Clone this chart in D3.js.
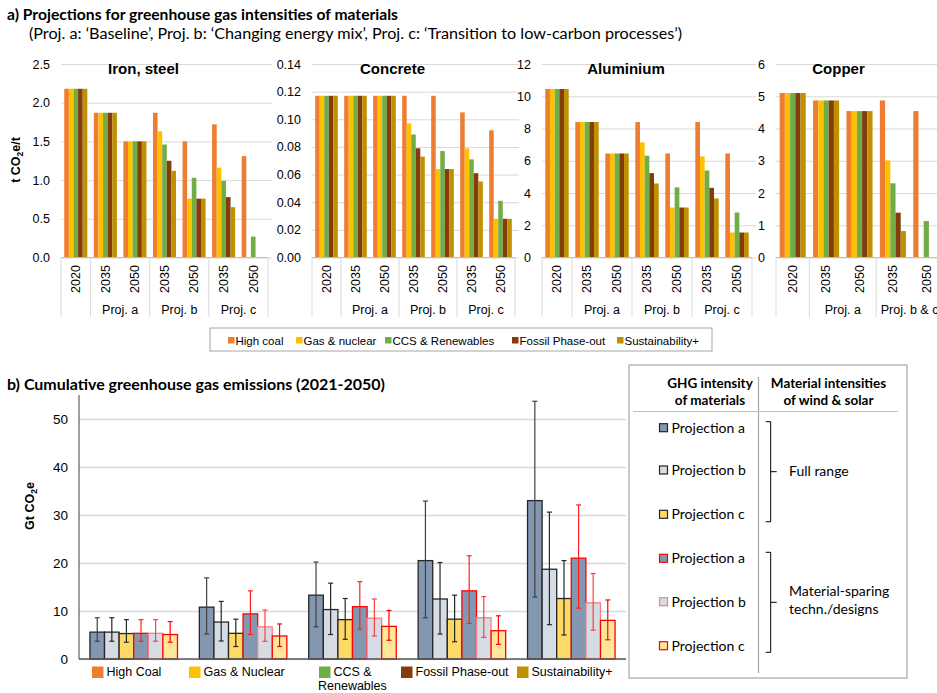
<!DOCTYPE html>
<html>
<head>
<meta charset="utf-8">
<script src="https://cdn.jsdelivr.net/npm/d3@7"></script>
<style>
  body { margin: 0; background: #fff; }
  svg text { font-family: "Liberation Sans", Arial, sans-serif; fill: #000; }
  svg text.cal { font-family: Lato, "Open Sans", sans-serif; }
</style>
</head>
<body>
<div id="chart"></div>
<script>
// a) GHG intensities of materials + b) cumulative emissions
// ==========================================================

var scenarios = ["High coal", "Gas & nuclear", "CCS & Renewables", "Fossil Phase-out", "Sustainability+"];
var colours = ["#ED7D31", "#FFC000", "#70AD47", "#843C0C", "#BF9000"];

var years = ["2020", "2035", "2050", "2035", "2050", "2035", "2050"];
var yearGroups = ["", "Proj. a", "Proj. a", "Proj. b", "Proj. b", "Proj. c", "Proj. c"];
var copperYears = ["2020", "2035", "2050", "2035", "2050"];
var copperGroups = ["", "Proj. a", "Proj. a", "Proj. b & c", "Proj. b & c"];

// t CO2e / t   (rows = year, cols = scenario)
var ironSteel = [
  [2.18, 2.18, 2.18, 2.18, 2.18],
  [1.87, 1.87, 1.87, 1.87, 1.87],
  [1.50, 1.50, 1.50, 1.50, 1.50],
  [1.87, 1.63, 1.46, 1.25, 1.12],
  [1.50, 0.76, 1.03, 0.76, 0.76],
  [1.72, 1.16, 0.99, 0.78, 0.65],
  [1.31, 0, 0.27, 0, 0]
];
var concrete = [
  [0.117, 0.117, 0.117, 0.117, 0.117],
  [0.117, 0.117, 0.117, 0.117, 0.117],
  [0.117, 0.117, 0.117, 0.117, 0.117],
  [0.117, 0.097, 0.089, 0.079, 0.073],
  [0.117, 0.064, 0.077, 0.064, 0.064],
  [0.105, 0.079, 0.071, 0.061, 0.055],
  [0.092, 0.028, 0.041, 0.028, 0.028]
];
var aluminium = [
  [10.45, 10.45, 10.45, 10.45, 10.45],
  [8.4, 8.4, 8.4, 8.4, 8.4],
  [6.45, 6.45, 6.45, 6.45, 6.45],
  [8.4, 7.14, 6.31, 5.23, 4.59],
  [6.45, 3.1, 4.35, 3.1, 3.1],
  [8.4, 6.27, 5.4, 4.32, 3.66],
  [6.45, 1.55, 2.79, 1.55, 1.55]
];
var copper = [
  [5.1, 5.1, 5.1, 5.1, 5.1],
  [4.87, 4.87, 4.87, 4.87, 4.87],
  [4.54, 4.54, 4.54, 4.54, 4.54],
  [4.87, 3.01, 2.3, 1.39, 0.82],
  [4.54, 0, 1.13, 0, 0]
];

// b) Gt CO2e, rows = scenario, cols = projection a/b/c (full range) then a/b/c (material-sparing)
var emScenarios = ["High Coal", "Gas & Nuclear", "CCS & Renewables", "Fossil Phase-out", "Sustainability+"];
var projections = ["Projection a", "Projection b", "Projection c", "Projection a", "Projection b", "Projection c"];
var emissions = [
  [5.6, 5.6, 5.3, 5.35, 5.35, 5.1],
  [10.8, 7.7, 5.35, 9.4, 6.7, 4.8],
  [13.3, 10.3, 8.2, 10.9, 8.5, 6.8],
  [20.5, 12.5, 8.3, 14.2, 8.6, 5.9],
  [33.0, 18.7, 12.6, 21.0, 11.7, 8.05]
];
var emHigh = [
  [8.6, 8.6, 8.2, 8.2, 8.2, 7.8],
  [16.9, 12.0, 8.3, 14.2, 10.2, 7.3],
  [20.2, 15.8, 12.6, 16.1, 12.5, 10.1],
  [32.9, 20.1, 13.3, 21.5, 13.0, 9.0],
  [53.7, 30.6, 20.5, 32.1, 17.8, 12.3]
];
var emLow = [
  [3.7, 3.7, 3.5, 3.7, 3.7, 3.5],
  [5.2, 3.75, 2.6, 5.1, 3.7, 2.6],
  [6.7, 5.1, 4.1, 6.2, 4.8, 3.9],
  [8.6, 5.2, 3.6, 7.4, 4.5, 3.05],
  [12.9, 7.15, 5.0, 10.6, 6.0, 4.0]
];

// styles for the 6 projection bars
var projFill = ["#8497B0", "#D6DCE4", "#FFD966", "#8497B0", "#D6DCE4", "#FFE699"];
var projStroke = ["#262626", "#262626", "#262626", "#FF0000", "#FF7C80", "#FF0000"];
var errStroke = ["#404040", "#262626", "#262626", "#FF2020", "#FF4040", "#FF0000"];

var width = 937, height = 693;

var svg = d3.select("#chart").append("svg")
    .attr("width", width)
    .attr("height", height);

// titles
svg.append("text").attr("class", "cal")
    .attr("x", 7).attr("y", 20)
    .attr("font-size", 15.5).attr("font-weight", "bold")
    .attr("textLength", 391).attr("lengthAdjust", "spacingAndGlyphs")
    .text("a) Projections for greenhouse gas intensities of materials");
svg.append("text").attr("class", "cal")
    .attr("x", 29).attr("y", 38.5)
    .attr("font-size", 14.5)
    .attr("textLength", 653).attr("lengthAdjust", "spacingAndGlyphs")
    .text("(Proj. a: \u2018Baseline\u2019, Proj. b: \u2018Changing energy mix\u2019, Proj. c: \u2018Transition to low-carbon processes\u2019)");

// ---- part a: four small bar charts ----
var plotTop = 64, plotBase = 257.5;

var panels = [
  {name: "Iron, steel", data: ironSteel, cats: years, groups: yearGroups, x0: 61, x1: 268, max: 2.5, n: 5, fmt: ".1f"},
  {name: "Concrete", data: concrete, cats: years, groups: yearGroups, x0: 312, x1: 515, max: 0.14, n: 7, fmt: ".2f"},
  {name: "Aluminium", data: aluminium, cats: years, groups: yearGroups, x0: 542, x1: 752, max: 12, n: 6, fmt: "d"},
  {name: "Copper", data: copper, cats: copperYears, groups: copperGroups, x0: 776, x1: 943, max: 6, n: 6, fmt: "d"}
];

panels.forEach(function(p) {
  var g = svg.append("g");
  var y = d3.scaleLinear().domain([0, p.max]).range([plotBase, plotTop]);
  var x = d3.scaleBand().domain(d3.range(p.cats.length)).range([p.x0, p.x1]);
  var bw = x.bandwidth();
  var xs = d3.scaleBand().domain(d3.range(scenarios.length)).range([bw * 0.11, bw * 0.89]);

  // gridlines + tick labels
  var ax = g.append("g")
      .attr("transform", "translate(" + p.x0 + ",0)")
      .call(d3.axisLeft(y).ticks(p.n).tickFormat(d3.format(p.fmt))
            .tickSize(-(p.x1 - p.x0 + 4)).tickPadding(11));
  ax.select(".domain").remove();
  ax.selectAll("line").attr("stroke", "#d9d9d9");
  ax.selectAll("text").attr("font-size", 12.5).attr("fill", "#000");

  // bars
  g.selectAll("g.cat")
    .data(p.data)
    .enter().append("g")
      .attr("transform", function(d, i) { return "translate(" + x(i) + ",0)"; })
    .selectAll("rect")
    .data(function(d) { return d; })
    .enter().append("rect")
      .attr("x", function(d, j) { return xs(j); })
      .attr("width", xs.bandwidth())
      .attr("y", function(d) { return y(d); })
      .attr("height", function(d) { return plotBase - y(d); })
      .attr("fill", function(d, j) { return colours[j]; });

  // category axis
  g.append("line")
      .attr("x1", p.x0).attr("x2", p.x1)
      .attr("y1", plotBase).attr("y2", plotBase)
      .attr("stroke", "#bfbfbf");

  g.selectAll("text.year")
    .data(p.cats)
    .enter().append("text")
      .attr("class", "year")
      .attr("transform", function(d, i) {
        return "translate(" + (x(i) + bw / 2) + ",279) rotate(-90)";
      })
      .attr("text-anchor", "middle")
      .attr("dy", "0.35em")
      .attr("font-size", 12.5)
      .text(function(d) { return d; });

  // group dividers + labels
  var bounds = [0];
  for (var i = 1; i < p.groups.length; i++) {
    if (p.groups[i] !== p.groups[i - 1]) bounds.push(i);
  }
  bounds.push(p.groups.length);
  g.selectAll("line.div")
    .data(bounds)
    .enter().append("line")
      .attr("class", "div")
      .attr("x1", function(d) { return p.x0 + d * bw; })
      .attr("x2", function(d) { return p.x0 + d * bw; })
      .attr("y1", plotBase).attr("y2", 317)
      .attr("stroke", "#d9d9d9");
  for (var k = 0; k < bounds.length - 1; k++) {
    var lab = p.groups[bounds[k]];
    if (!lab) continue;
    g.append("text")
      .attr("x", p.x0 + (bounds[k] + bounds[k + 1]) / 2 * bw)
      .attr("y", 310).attr("dy", "0.35em")
      .attr("text-anchor", "middle")
      .attr("font-size", 12.5)
      .text(lab);
  }

  g.append("text")
      .attr("x", (p.x0 - 42 + p.x1) / 2).attr("y", 74)
      .attr("text-anchor", "middle")
      .attr("font-size", 15).attr("font-weight", "bold")
      .text(p.name);
});

// y title for part a
var ya = svg.append("text")
    .attr("transform", "translate(20,160) rotate(-90)")
    .attr("text-anchor", "middle")
    .attr("font-size", 12.5).attr("font-weight", "bold");
ya.append("tspan").text("t CO");
ya.append("tspan").attr("font-size", 8.5).attr("dy", 3).text("2");
ya.append("tspan").attr("dy", -3).text("e/t");

// legend part a
svg.append("rect")
    .attr("x", 210).attr("y", 328).attr("width", 502).attr("height", 23)
    .attr("fill", "none").attr("stroke", "#a6a6a6");
var legX = [228, 296, 385, 512, 617];
var leg = svg.selectAll("g.lega")
    .data(scenarios)
    .enter().append("g")
    .attr("transform", function(d, i) { return "translate(" + legX[i] + ",340.5)"; });
leg.append("rect")
    .attr("x", 0).attr("y", -3.5).attr("width", 6.5).attr("height", 6.5)
    .attr("fill", function(d, i) { return colours[i]; });
leg.append("text")
    .attr("x", 7.5).attr("dy", "0.35em")
    .attr("font-size", 11.5)
    .text(function(d) { return d; });

// ---- part b: cumulative emissions ----
svg.append("text").attr("class", "cal")
    .attr("x", 7).attr("y", 390)
    .attr("font-size", 15.5).attr("font-weight", "bold")
    .attr("textLength", 378).attr("lengthAdjust", "spacingAndGlyphs")
    .text("b) Cumulative greenhouse gas emissions (2021-2050)");

var yB = d3.scaleLinear().domain([0, 55]).range([659, 395]);
var xB = d3.scaleBand().domain(emScenarios).range([79, 626]).paddingInner(0.2).paddingOuter(0.1);
var xV = d3.scaleBand().domain(d3.range(projections.length)).range([0, xB.bandwidth()]);

var axB = svg.append("g")
    .attr("transform", "translate(79,0)")
    .call(d3.axisLeft(yB).tickValues([0, 10, 20, 30, 40, 50])
          .tickSize(-(626 - 79)).tickPadding(11));
axB.select(".domain").remove();
axB.selectAll("line").attr("stroke", "#d9d9d9").attr("stroke-width", 1.3);
axB.selectAll("text").attr("font-size", 13.5).attr("fill", "#000");

var grp = svg.selectAll("g.em")
    .data(emissions)
    .enter().append("g")
    .attr("transform", function(d, i) { return "translate(" + xB(emScenarios[i]) + ",0)"; });

grp.selectAll("rect")
    .data(function(d) { return d; })
    .enter().append("rect")
    .attr("x", function(d, j) { return xV(j); })
    .attr("width", xV.bandwidth())
    .attr("y", function(d) { return yB(d); })
    .attr("height", function(d) { return yB(0) - yB(d); })
    .attr("fill", function(d, j) { return projFill[j]; })
    .attr("stroke", function(d, j) { return projStroke[j]; })
    .attr("stroke-width", 1.3);

// error bars
grp.each(function(row, i) {
  var gg = d3.select(this);
  row.forEach(function(v, j) {
    var cx = xV(j) + xV.bandwidth() / 2;
    var hi = yB(emHigh[i][j]), lo = yB(emLow[i][j]);
    var c = errStroke[j];
    gg.append("line").attr("x1", cx).attr("x2", cx).attr("y1", hi).attr("y2", lo)
      .attr("stroke", c).attr("stroke-width", 1.2);
    gg.append("line").attr("x1", cx - 2.5).attr("x2", cx + 2.5).attr("y1", hi).attr("y2", hi)
      .attr("stroke", c).attr("stroke-width", 1.2);
    gg.append("line").attr("x1", cx - 2.5).attr("x2", cx + 2.5).attr("y1", lo).attr("y2", lo)
      .attr("stroke", c).attr("stroke-width", 1.2);
  });
});

// axes lines
svg.append("line")
    .attr("x1", 79).attr("x2", 79).attr("y1", 395).attr("y2", 659)
    .attr("stroke", "#404040").attr("stroke-width", 1);
svg.append("line")
    .attr("x1", 79).attr("x2", 626).attr("y1", 659).attr("y2", 659)
    .attr("stroke", "#595959").attr("stroke-width", 1.5);

var yb = svg.append("text")
    .attr("transform", "translate(34,506) rotate(-90)")
    .attr("text-anchor", "middle")
    .attr("font-size", 12.5).attr("font-weight", "bold");
yb.append("tspan").text("Gt CO");
yb.append("tspan").attr("font-size", 8.5).attr("dy", 3).text("2");
yb.append("tspan").attr("dy", -3).text("e");

// legend part b (scenario colours)
var legBX = [92, 189, 319, 401, 517];
var legBLines = [["High Coal"], ["Gas & Nuclear"], ["CCS &"], ["Fossil Phase-out"], ["Sustainability+"]];
var legB = svg.selectAll("g.legb")
    .data(emScenarios)
    .enter().append("g")
    .attr("transform", function(d, i) { return "translate(" + legBX[i] + ",672)"; });
legB.append("rect")
    .attr("x", 0).attr("y", -5.5).attr("width", 11.5).attr("height", 11.5)
    .attr("fill", function(d, i) { return colours[i]; });
legB.append("text")
    .attr("x", 14.5).attr("y", 4.2)
    .attr("font-size", 12.5)
    .text(function(d, i) { return legBLines[i][0]; });
svg.append("text")
    .attr("x", 318).attr("y", 690.2)
    .attr("font-size", 12.5)
    .text("Renewables");

// right-hand legend box
var box = svg.append("g");
box.append("rect")
    .attr("x", 629).attr("y", 365).attr("width", 278).attr("height", 313)
    .attr("fill", "#fff").attr("stroke", "#a6a6a6").attr("stroke-width", 1.2);
box.append("line")
    .attr("x1", 758.5).attr("x2", 758.5).attr("y1", 377).attr("y2", 673)
    .attr("stroke", "#a6a6a6").attr("stroke-width", 1.2);
box.append("line")
    .attr("x1", 633).attr("x2", 898).attr("y1", 411.5).attr("y2", 411.5)
    .attr("stroke", "#bfbfbf").attr("stroke-width", 1.2);

var heads = [["GHG intensity", "of materials", 710], ["Material intensities", "of wind & solar", 828.5]];
heads.forEach(function(h) {
  box.append("text").attr("class", "cal")
    .attr("x", h[2]).attr("y", 383.5).attr("dy", "0.35em")
    .attr("text-anchor", "middle").attr("font-size", 13.5).attr("font-weight", "bold")
    .text(h[0]);
  box.append("text").attr("class", "cal")
    .attr("x", h[2]).attr("y", 400.5).attr("dy", "0.35em")
    .attr("text-anchor", "middle").attr("font-size", 13.5).attr("font-weight", "bold")
    .text(h[1]);
});

var legRowY = [427.7, 470, 514.3, 558.3, 601.7, 645.7];
var boxLeg = box.selectAll("g.row")
    .data(projections)
    .enter().append("g")
    .attr("transform", function(d, i) { return "translate(659," + legRowY[i] + ")"; });
boxLeg.append("rect")
    .attr("x", 0.5).attr("y", -4).attr("width", 8).attr("height", 8)
    .attr("fill", function(d, i) { return projFill[i]; })
    .attr("stroke", function(d, i) { return projStroke[i]; })
    .attr("stroke-width", 1.2);
boxLeg.append("text").attr("class", "cal")
    .attr("x", 12.5).attr("dy", "0.35em")
    .attr("font-size", 14)
    .text(function(d) { return d; });

// brackets
function bracket(y1, y2) {
  var xm = 770.7, ym = (y1 + y2) / 2;
  box.append("path")
    .attr("d", "M" + (xm - 5) + "," + y1 + "H" + xm + "V" + y2 + "H" + (xm - 5)
               + "M" + xm + "," + ym + "H" + (xm + 6))
    .attr("fill", "none").attr("stroke", "#000").attr("stroke-width", 1);
}
bracket(421.7, 521.7);
bracket(552.3, 652.3);

box.append("text").attr("class", "cal")
    .attr("x", 789).attr("y", 471).attr("dy", "0.35em")
    .attr("font-size", 14).text("Full range");
box.append("text").attr("class", "cal")
    .attr("x", 789).attr("y", 591).attr("dy", "0.35em")
    .attr("font-size", 14).text("Material-sparing");
box.append("text").attr("class", "cal")
    .attr("x", 789).attr("y", 608.7).attr("dy", "0.35em")
    .attr("font-size", 14).text("techn./designs");
</script>
</body>
</html>
